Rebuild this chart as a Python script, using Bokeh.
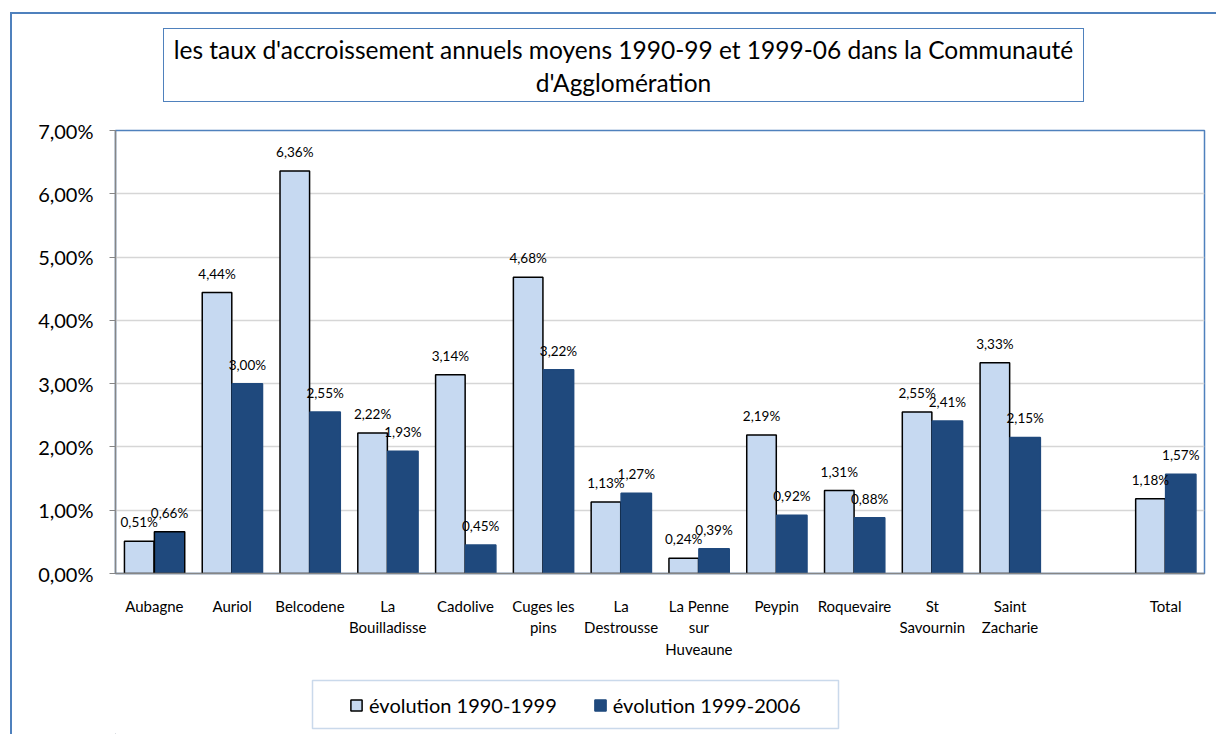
from bokeh.plotting import figure
from bokeh.layouts import column
from bokeh.models import (FactorRange, ColumnDataSource, Legend, LegendItem, Div,
                          BoxAnnotation, CustomJSTickFormatter, FixedTicker)
from bokeh.transform import dodge
from bokeh.core.properties import value
from bokeh.embed import file_html
from bokeh.resources import INLINE

# ---------------- data ----------------
communes = ["Aubagne", "Auriol", "Belcodene", "La\nBouilladisse", "Cadolive",
            "Cuges les\npins", "La\nDestrousse", "La Penne\nsur\nHuveaune", "Peypin",
            "Roquevaire", "St\nSavournin", "Saint\nZacharie", "Total"]
evol_1990_1999 = [0.51, 4.44, 6.36, 2.22, 3.14, 4.68, 1.13, 0.24, 2.19, 1.31, 2.55, 3.33, 1.18]
evol_1999_2006 = [0.66, 3.00, 2.55, 1.93, 0.45, 3.22, 1.27, 0.39, 0.92, 0.88, 2.41, 2.15, 1.57]
y_ticks = [0, 1, 2, 3, 4, 5, 6, 7]
series_names = ["évolution 1990-1999", "évolution 1999-2006"]
title_lines = ["les taux d'accroissement annuels moyens 1990-99 et 1999-06 dans la Communauté",
               "d'Agglomération"]

# empty slot before "Total", as in the original
factors = communes[:-1] + [" "] + communes[-1:]

FONT = "Lato"
LIGHT = "#C6D9F1"
DARK = "#1F497D"
BLUE_LINE = "#4F81BD"


def fmt(v):
    return f"{v:.2f}".replace(".", ",") + "%"


# ---------------- title box ----------------
title_div = Div(text="<br>".join(title_lines), width=921, height=74, margin=(14, 0, 0, 151),
                styles={"border": "1.5px solid #4F81BD", "box-sizing": "border-box",
                        "text-align": "center", "font-family": FONT, "font-size": "24.5px",
                        "line-height": "33px", "padding-top": "4px", "color": "black",
                        "background-color": "white"})

# ---------------- main chart ----------------
W = 1204
p = figure(x_range=FactorRange(factors=factors), y_range=(0, 7), width=W, height=568,
           output_backend="svg", toolbar_location=None, title=None, margin=(0, 0, 0, 0),
           min_border_left=103, min_border_right=12, min_border_top=28, min_border_bottom=97)
p.background_fill_color = "white"
p.border_fill_color = "white"
p.outline_line_color = BLUE_LINE
p.outline_line_width = 1.5

p.xgrid.grid_line_color = None
p.ygrid.grid_line_color = "#d6d6d6"
p.ygrid.grid_line_width = 1.5

p.yaxis.ticker = FixedTicker(ticks=y_ticks)
p.yaxis.formatter = CustomJSTickFormatter(code="return tick.toFixed(2).replace('.', ',') + '%';")
p.yaxis.major_label_text_font = FONT
p.yaxis.major_label_text_font_size = "20px"
p.yaxis.major_label_text_color = "black"
p.yaxis.major_label_standoff = 16
p.yaxis.major_tick_out = 6
p.yaxis.major_tick_in = 0
p.yaxis.minor_tick_line_color = None
for ax in (p.xaxis, p.yaxis):
    ax.axis_line_color = "#868686"
    ax.axis_line_width = 1.5
    ax.major_tick_line_color = "#868686"
p.xaxis.major_tick_line_color = None
p.xaxis.major_label_text_font = FONT
p.xaxis.major_label_text_font_size = "15px"
p.xaxis.major_label_text_color = "black"
p.xaxis.major_label_standoff = 17

src1 = ColumnDataSource(dict(x=communes, y=evol_1990_1999, lab=[fmt(v) for v in evol_1990_1999]))
src2 = ColumnDataSource(dict(x=communes, y=evol_1999_2006, lab=[fmt(v) for v in evol_1999_2006],
                             lc=["black"] + [DARK] * (len(communes) - 1)))

r1 = p.vbar(x=dodge("x", -0.195, range=p.x_range), top="y", width=0.38, source=src1,
            fill_color=LIGHT, line_color="black", line_width=1.5)
r2 = p.vbar(x=dodge("x", 0.195, range=p.x_range), top="y", width=0.39, source=src2,
            fill_color=DARK, line_color="lc", line_width=1.5)

for src, dx in ((src1, -0.195), (src2, 0.195)):
    p.text(x=dodge("x", dx, range=p.x_range), y="y", text="lab", source=src,
           text_align="center", text_baseline="bottom", y_offset=-11,
           text_font=value(FONT), text_font_size="13.5px", text_color="black")

# ---------------- legend strip ----------------
LH = 64
lg = figure(width=W, height=LH, x_range=(0, W), y_range=(0, LH), output_backend="svg",
            toolbar_location=None, title=None, margin=(0, 0, 0, 0), min_border=0,
            x_axis_location=None, y_axis_location=None)
lg.outline_line_color = None
lg.xgrid.grid_line_color = None
lg.ygrid.grid_line_color = None
lg.background_fill_color = "white"
lg.border_fill_color = "white"
# legend proxies: one bar each, placed outside the visible range so only the legend swatch shows
d1 = lg.vbar(x=[-500], top=[-500], width=1, fill_color=LIGHT, line_color="black", line_width=1.5)
d2 = lg.vbar(x=[-500], top=[-500], width=1, fill_color=DARK, line_color=DARK, line_width=1.5)
lg.add_layout(BoxAnnotation(left=300, right=826, top=10, bottom=58,
                            left_units="canvas", right_units="canvas",
                            top_units="canvas", bottom_units="canvas",
                            fill_alpha=0, line_color=BLUE_LINE, line_width=1.5))
legend = Legend(items=[LegendItem(label=series_names[0], renderers=[d1]),
                       LegendItem(label=series_names[1], renderers=[d2])],
                location=(234, 17), orientation="horizontal",
                border_line_color=None, background_fill_alpha=0, padding=0, margin=0,
                spacing=36, glyph_width=14, glyph_height=14, label_standoff=6,
                label_text_font=FONT, label_text_font_size="20px", label_text_color="black")
lg.add_layout(legend)

layout = column(title_div, p, lg, margin=(12, 0, 0, 10),
                styles={"border-left": "2px solid #4F81BD", "border-top": "2px solid #4F81BD"})

open("out.html", "w").write(file_html(layout, INLINE))
